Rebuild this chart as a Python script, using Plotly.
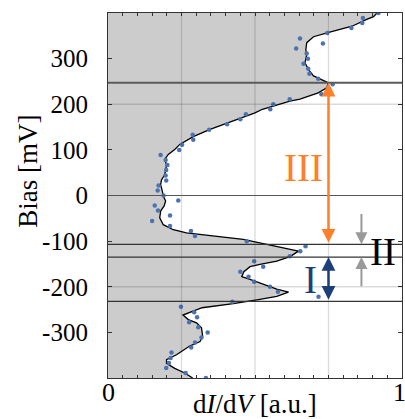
import plotly.graph_objects as go

# Measured spectrum: bias (mV) and normalised differential conductance
bias_pts = [400, 389, 378, 367, 356, 344, 333, 322, 311, 300, 289, 278, 267, 256, 244, 233,
            222, 211, 200, 189, 178, 167, 156, 144, 133, 122, 111, 100, 89, 78, 67, 56,
            44, 33, 22, 11, 0, -11, -22, -33, -44, -56, -67, -78, -89, -100, -111, -122,
            -133, -144, -156, -167, -178, -189, -200, -211, -222, -233, -244, -256, -267,
            -278, -289, -300, -311, -322, -333, -344, -356, -367, -378, -389, -400]
didv_pts = [0.920, 0.867, 0.865, 0.828, 0.746, 0.653, 0.731, 0.640, 0.676, 0.680, 0.665,
            0.681, 0.685, 0.715, 0.764, 0.752, 0.726, 0.618, 0.562, 0.552, 0.469, 0.450,
            0.405, 0.344, 0.288, 0.290, 0.252, 0.242, 0.179, 0.196, 0.202, 0.198, 0.196,
            0.198, 0.172, 0.169, 0.189, 0.239, 0.159, 0.170, 0.211, 0.150, 0.211, 0.282,
            0.296, 0.472, 0.672, 0.654, 0.618, 0.497, 0.528, 0.450, 0.478, 0.497, 0.551,
            0.578, 0.716, 0.423, 0.248, 0.293, 0.303, 0.276, 0.307, 0.339, 0.318, 0.296,
            0.283, 0.216, 0.213, 0.207, 0.198, 0.264, 0.333]

# Smoothed conductance curve
bias_fit = [400, 392, 386, 371, 357, 348, 335, 320, 309, 291, 276, 262, 247, 236, 225, 211,
            207, 197, 189, 181, 165, 145, 129, 112, 101, 90, 79, 68, 57, 46, 34, 24, 9, -1,
            -12, -23, -34, -49, -64, -75, -82, -88, -96, -107, -115, -122, -134, -144, -151,
            -156, -167, -178, -184, -195, -205, -212, -221, -228, -237, -246, -254, -262,
            -272, -279, -290, -309, -320, -330, -349, -360, -368, -379, -389, -400]
didv_fit = [0.915, 0.903, 0.880, 0.830, 0.748, 0.699, 0.676, 0.673, 0.676, 0.670, 0.682,
            0.699, 0.750, 0.744, 0.715, 0.653, 0.619, 0.562, 0.525, 0.500, 0.435, 0.347,
            0.290, 0.244, 0.227, 0.205, 0.193, 0.199, 0.197, 0.193, 0.182, 0.179, 0.185,
            0.188, 0.196, 0.191, 0.179, 0.176, 0.188, 0.222, 0.267, 0.350, 0.460, 0.540,
            0.596, 0.648, 0.619, 0.574, 0.517, 0.483, 0.462, 0.455, 0.483, 0.528, 0.574,
            0.614, 0.574, 0.512, 0.426, 0.320, 0.290, 0.255, 0.273, 0.301, 0.318, 0.322,
            0.313, 0.278, 0.233, 0.199, 0.199, 0.227, 0.261, 0.288]

# Region boundaries (mV)
boundaries = [247, 0, -107, -135, -232]
region_III = (247, -107)
region_I = (-135, -232)
region_II = (-107, -135)
region_II_tails = (-37, -202)

y_ticks = [300, 200, 100, 0, -100, -200, -300]
y_ticktext = ["300", "200", "100", "0", "-100", "-200", "-300"]
x_ticks = [0, 1]
x_ticktext = ["0", "1"]
x_grid = [0.25, 0.5, 0.75]
y_grid = [200, -200]

FONT = "Liberation Serif"
ORANGE = "#ff7f2a"
NAVY = "#1c3f7a"
GREY = "#9a9a9a"

fig = go.Figure()

fig.add_trace(go.Scatter(
    x=didv_fit, y=bias_fit, mode="lines", fill="tozerox",
    fillcolor="#cccccc", line=dict(color="black", width=1.3),
    hoverinfo="skip", showlegend=False))

fig.add_trace(go.Scatter(
    x=didv_pts, y=bias_pts, mode="markers",
    marker=dict(color="#4c72b0", size=4.5), showlegend=False))

shapes = []
for gx in x_grid:
    shapes.append(dict(type="line", xref="x", yref="paper", x0=gx, x1=gx, y0=0, y1=1,
                       line=dict(color="rgba(0,0,0,0.14)", width=1.3), layer="above"))
for gy in y_grid:
    shapes.append(dict(type="line", xref="paper", yref="y", x0=0, x1=1, y0=gy, y1=gy,
                       line=dict(color="rgba(0,0,0,0.14)", width=1.3), layer="above"))
for b in boundaries:
    if b == boundaries[0]:
        ln = dict(color="#5a5a5a", width=2)
    elif b == 0:
        ln = dict(color="#555555", width=1.1)
    else:
        ln = dict(color="#333333", width=1.3)
    shapes.append(dict(type="line", xref="paper", yref="y", x0=0, x1=1, y0=b, y1=b,
                       line=ln, layer="above"))

annotations = []


def double_arrow(x, y_top, y_bot, color, width, size):
    return dict(x=x, y=y_top, ax=x, ay=y_bot, xref="x", yref="y", axref="x", ayref="y",
                text="", showarrow=True, arrowside="end+start", arrowhead=2,
                startarrowhead=2, arrowsize=size, startarrowsize=size,
                arrowwidth=width, arrowcolor=color, standoff=0, startstandoff=0)


def single_arrow(x, y_tip, y_tail, color, width, size):
    return dict(x=x, y=y_tip, ax=x, ay=y_tail, xref="x", yref="y", axref="x", ayref="y",
                text="", showarrow=True, arrowhead=2, arrowsize=size,
                arrowwidth=width, arrowcolor=color, standoff=0)


annotations.append(double_arrow(0.75, region_III[0], region_III[1], ORANGE, 2.5, 1.1))
annotations.append(double_arrow(0.75, region_I[0], region_I[1], NAVY, 2.5, 1.1))
annotations.append(single_arrow(0.862, region_II[0], region_II_tails[0], GREY, 2, 1.2))
annotations.append(single_arrow(0.862, region_II[1], region_II_tails[1], GREY, 2, 1.2))

annotations.append(dict(x=0.665, y=61, xref="x", yref="y", text="III", showarrow=False,
                        font=dict(family=FONT, size=39, color=ORANGE)))
annotations.append(dict(x=0.69, y=-184, xref="x", yref="y", text="I", showarrow=False,
                        font=dict(family=FONT, size=39, color=NAVY)))
annotations.append(dict(x=0.935, y=-122, xref="x", yref="y", text="II", showarrow=False,
                        font=dict(family=FONT, size=39, color="black")))

# x tick labels at both ends of the axis
for xv, xt, xp in zip(x_ticks, x_ticktext, [0.0, 0.993]):
    annotations.append(dict(x=xp, y=-0.041, xref="paper", yref="paper", text=xt,
                            showarrow=False, xanchor="center", yanchor="middle",
                            font=dict(family=FONT, size=26, color="black")))

annotations.append(dict(x=-0.272, y=0.565, xref="paper", yref="paper", text="Bias [mV]",
                        textangle=-90, showarrow=False, xanchor="center", yanchor="middle",
                        font=dict(family=FONT, size=27, color="black")))
annotations.append(dict(x=0.5, y=-0.072, xref="paper", yref="paper",
                        text="d<i>I</i>/d<i>V</i> [a.u.]", showarrow=False,
                        xanchor="center", yanchor="middle",
                        font=dict(family=FONT, size=27, color="black")))

fig.update_layout(
    width=405, height=419,
    margin=dict(l=108, r=3, t=13, b=41),
    paper_bgcolor="white", plot_bgcolor="white",
    shapes=shapes, annotations=annotations,
    font=dict(family=FONT, size=25, color="black"),
    showlegend=False,
)

fig.update_xaxes(
    range=[0, 1], showgrid=False, zeroline=False,
    tickvals=x_ticks, showticklabels=False,
    ticks="inside", ticklen=4, tickcolor="#333333",
    minor=dict(dtick=0.05, tick0=0, ticks="inside", ticklen=3, tickcolor="#333333",
               showgrid=False),
    showline=True, linecolor="#333333", linewidth=1.2, mirror="ticks",
)
fig.update_yaxes(
    range=[-400, 400], showgrid=False, zeroline=False,
    tickvals=y_ticks, ticktext=y_ticktext,
    ticks="inside", ticklen=4, tickcolor="#333333",
    showline=True, linecolor="#333333", linewidth=1.2, mirror="ticks",
    tickfont=dict(family=FONT, size=25), ticklabelstandoff=14,
)

fig.write_html("out.html")
